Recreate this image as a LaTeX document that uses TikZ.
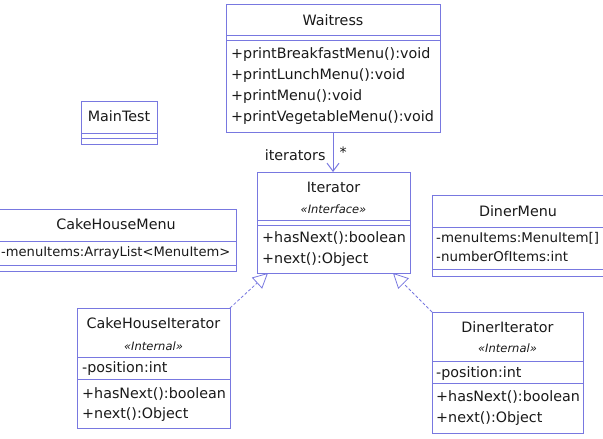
\documentclass[tikz,border=0pt]{standalone}
\usepackage{fontspec}
\setmainfont{DejaVu Sans}
\usetikzlibrary{arrows.meta}
\definecolor{umlblue}{RGB}{120,120,224}
\definecolor{umltext}{RGB}{25,25,25}

\begin{document}
\begin{tikzpicture}[x=1pt,y=-1pt,
    cls/.style={draw=umlblue, line width=1pt, anchor=north west, inner sep=0pt, outer sep=0pt},
    sep/.style={umlblue, line width=1pt},
    title/.style={font=\fontsize{14.3}{17}\selectfont, text=umltext, inner sep=0pt, text height=10.5pt, text depth=0pt},
    stereo/.style={font=\fontsize{11.5}{13}\selectfont\itshape, text=umltext, inner sep=0pt},
    memb/.style={font=\fontsize{14.3}{21}\selectfont, text=umltext, align=left, anchor=north west, inner sep=0pt},
    assoc/.style={draw=umlblue, line width=1pt, -{Straight Barb[length=8pt,width=12pt]}},
    realize/.style={draw=umlblue, line width=0.8pt, dash pattern=on 3pt off 2pt, -{Triangle[open, length=15pt, width=15pt]}}]
    \useasboundingbox (0,0) rectangle (603,439);

    \node [cls, minimum width=214, minimum height=128] (waitress) at (226,4) {};
    \draw [sep] (226,35) -- ++(214,0);
    \draw [sep] (226,40) -- ++(214,0);
    \node [title] (waitressT) at (333,20) {Waitress};
    \node [memb] (waitressOps) at (231,47) {+printBreakfastMenu():void\\+printLunchMenu():void\\+printMenu():void\\+printVegetableMenu():void};

    \node [cls, minimum width=76, minimum height=43] (mainTest) at (81,101) {};
    \draw [sep] (81,133) -- ++(76,0);
    \draw [sep] (81,138) -- ++(76,0);
    \node [title] (mainTestT) at (119,116) {MainTest};

    \node [cls, minimum width=153, minimum height=101] (iterator) at (257,172) {};
    \draw [sep] (257,220) -- ++(153,0);
    \draw [sep] (257,225) -- ++(153,0);
    \node [title] (iteratorT) at (333.5,187) {Iterator};
    \node [stereo] (iteratorS) at (333.5,209) {«Interface»};
    \node [memb] (iteratorOps) at (262,231) {+hasNext():boolean\\+next():Object};

    \node [cls, minimum width=240, minimum height=62] (cakeMenu) at (-4,209) {};
    \draw [sep] (-4,241) -- ++(240,0);
    \draw [sep] (-4,265) -- ++(240,0);
    \node [title] (cakeMenuT) at (116,224) {CakeHouseMenu};
    \node [memb, font=\fontsize{13.1}{21}\selectfont] (cakeMenuAttr) at (1,246.5) {-menuItems:ArrayList<MenuItem>};

    \node [cls, minimum width=172, minimum height=81] (dinerMenu) at (432,195) {};
    \draw [sep] (432,227) -- ++(172,0);
    \draw [sep] (432,269) -- ++(172,0);
    \node [title] (dinerMenuT) at (518,211) {DinerMenu};
    \node [memb, font=\fontsize{13.4}{19}\selectfont] (dinerMenuAttr) at (436,232.5) {-menuItems:MenuItem[]\\-numberOfItems:int};

    \node [cls, minimum width=153, minimum height=120] (cakeIter) at (77,308) {};
    \draw [sep] (77,357) -- ++(153,0);
    \draw [sep] (77,379) -- ++(153,0);
    \node [title] (cakeIterT) at (153.5,323) {CakeHouseIterator};
    \node [stereo] (cakeIterS) at (153.5,346) {«Internal»};
    \node [memb] (cakeIterAttr) at (82,361) {-position:int};
    \node [memb, font=\fontsize{14.3}{20}\selectfont] (cakeIterOps) at (82,387) {+hasNext():boolean\\+next():Object};

    \node [cls, minimum width=151, minimum height=121] (dinerIter) at (432,312) {};
    \draw [sep] (432,361) -- ++(151,0);
    \draw [sep] (432,383) -- ++(151,0);
    \node [title] (dinerIterT) at (507.5,327) {DinerIterator};
    \node [stereo] (dinerIterS) at (507.5,348) {«Internal»};
    \node [memb] (dinerIterAttr) at (436,366) {-position:int};
    \node [memb] (dinerIterOps) at (436,390) {+hasNext():boolean\\+next():Object};

    \draw [assoc] (waitress.south) -- (waitress.south |- iterator.north)
        node [title, pos=0.58, left=7pt] (roleLbl) {iterators}
        node [title, pos=0.5, right=6pt] (multLbl) {*};
    \draw [realize] (cakeIter.north east) -- ([xshift=11pt]iterator.south west);
    \draw [realize] (dinerIter.north west) -- ([xshift=-17pt]iterator.south east);
\end{tikzpicture}
\end{document}
